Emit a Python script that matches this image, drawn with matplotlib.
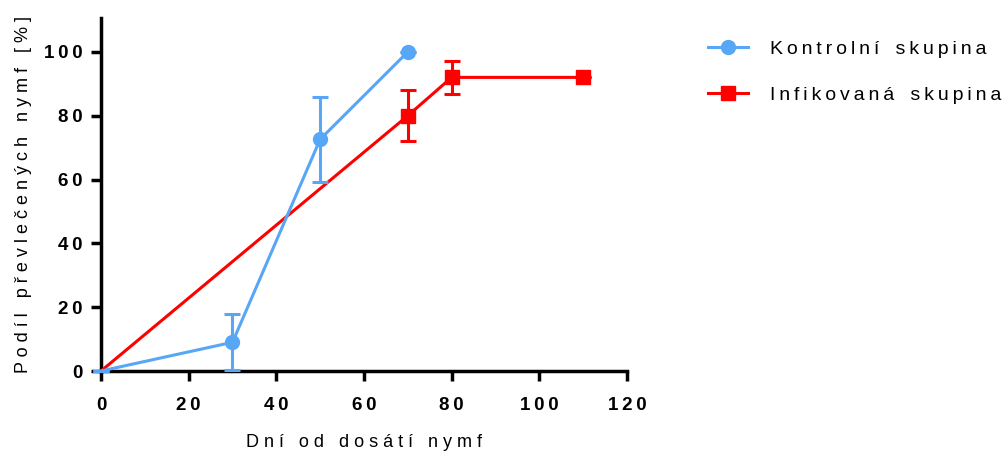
import matplotlib
matplotlib.use("Agg")
import matplotlib.pyplot as plt
from matplotlib.ticker import FuncFormatter

plt.rcParams['font.family'] = ['Liberation Sans', 'DejaVu Sans']

# data
days_ctrl = [0, 30, 50, 70]
ctrl = [0, 9, 72.6, 100]
ctrl_err = [0, 8.8, 13.3, 0]

days_inf = [0, 70, 80, 110]
inf = [0, 80, 92, 92]
inf_err = [0, 8, 5.2, 0]

xticks = [0, 20, 40, 60, 80, 100, 120]
yticks = [0, 20, 40, 60, 80, 100]

blue = '#58a6f6'
red = '#ff0000'


def spaced(s, gap='\u2009', sep='   '):
    # roztažené písmo jako v originále
    return sep.join(gap.join(w) for w in s.split(' '))


fig = plt.figure(figsize=(10.03, 4.55), dpi=100)
ax = fig.add_axes([0.1007, 0.1846, 0.5244, 0.7758])

ax.errorbar(days_inf, inf, yerr=inf_err, color=red, lw=2.2, marker='s', ms=10,
            markevery=[1, 2, 3], capsize=5.5, capthick=2.2, elinewidth=2.2,
            label=spaced('Infikovaná skupina'), clip_on=False, zorder=3)
ax.errorbar(days_ctrl, ctrl, yerr=ctrl_err, color=blue, lw=2.2, marker='o', ms=10,
            markevery=[1, 2, 3], capsize=5.5, capthick=2.2, elinewidth=2.2,
            label=spaced('Kontrolní skupina'), clip_on=False, zorder=4)

ax.set_xlim(0, 120)
ax.set_ylim(0, 110.6)
ax.set_xticks(xticks)
ax.set_yticks(yticks)
fmt = FuncFormatter(lambda v, p: '\u2009'.join(str(int(v))))
ax.xaxis.set_major_formatter(fmt)
ax.yaxis.set_major_formatter(fmt)

for s in ['top', 'right']:
    ax.spines[s].set_visible(False)
for s in ['left', 'bottom']:
    ax.spines[s].set_linewidth(2.5)
ax.tick_params(length=7, width=2.5, direction='out', labelsize=13.5)
ax.tick_params(axis='y', pad=6)
ax.tick_params(axis='x', pad=11.5)
for lab in ax.get_xticklabels() + ax.get_yticklabels():
    lab.set_fontweight('bold')

ax.set_xlabel(spaced('Dní od dosátí nymf', ' '), fontsize=13, labelpad=14.5)
ax.set_ylabel(spaced('Podíl převlečených nymf [%]', ' '), fontsize=13, labelpad=9)

h, l = ax.get_legend_handles_labels()
h = [hh[0] for hh in h]
fig.legend(h[::-1], l[::-1], loc='upper left', bbox_to_anchor=(0.688, 0.95),
           frameon=False, fontsize=14, handlelength=2.1, labelspacing=1.45,
           handletextpad=1.13, markerscale=1.0)

fig.savefig('out.png', dpi=100)
